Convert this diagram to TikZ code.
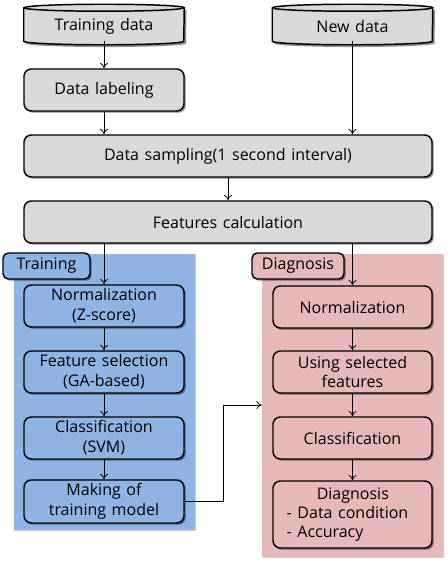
\documentclass[tikz,border=0pt]{standalone}
\usepackage{fontspec}
\setmainfont{Open Sans}
\usetikzlibrary{shadows,arrows.meta}
\definecolor{boxgray}{HTML}{D9D9D9}
\definecolor{tblue}{HTML}{8EB4E3}
\definecolor{dpink}{HTML}{E6B9B8}
\newcommand{\bfnt}{\fontsize{12}{14.8}\selectfont\spaceskip=4.2pt plus 1pt minus 1pt\relax}
\tikzset{
  shad/.style={drop shadow={shadow xshift=1.3pt,shadow yshift=-1.3pt,fill=black,opacity=0.45}},
  box/.style={draw=black,line width=1.1pt,rounded corners=5.5pt,shad,align=center,
    inner sep=0pt,font=\bfnt},
  bg/.style={inner sep=0pt,drop shadow={shadow xshift=1pt,shadow yshift=-1pt,fill=black,opacity=0.2}},
  tab/.style={draw=black,line width=1.1pt,rounded corners=4pt,shad,inner sep=0pt,font=\bfnt},
  arr/.style={-{To[length=4pt,width=6pt]},line width=0.6pt},
}
\begin{document}
\begin{tikzpicture}[x=0.75pt,y=-0.75pt]
\useasboundingbox (0,0) rectangle (448,564);
% backgrounds
\node[bg,fill=tblue,minimum width=181*0.75pt,minimum height=276*0.75pt] (bgL) at (104.5,392) {};
\node[bg,fill=dpink,minimum width=181*0.75pt,minimum height=303*0.75pt] (bgR) at (352.5,405.5) {};
% tabs
\node[tab,fill=tblue,minimum width=87*0.75pt,minimum height=26*0.75pt] (tabL) at (46.5,266) {Training};
\node[tab,fill=dpink,minimum width=92*0.75pt,minimum height=26*0.75pt] (tabR) at (298,266) {Diagnosis};
% cylinders
\foreach \n/\cx/\t in {td/104/Training data,nd/352.5/New data}{
  \node[minimum width=160*0.75pt,minimum height=33*0.75pt,inner sep=0pt] (\n) at (\cx,24.5) {};
  \fill[black,opacity=0.45] ([xshift=1.7,yshift=-1.7]\n.north west) -- ([xshift=1.7,yshift=-1.7]\n.south west)
     arc[start angle=180,end angle=0,x radius=80,y radius=3.5] -- ([xshift=1.7,yshift=-1.7]\n.north east) -- cycle;
  \draw[line width=1.1pt,fill=boxgray] (\n.north west) -- (\n.south west)
     arc[start angle=180,end angle=0,x radius=80,y radius=3.5] -- (\n.north east)
     arc[start angle=0,end angle=-180,x radius=80,y radius=3.5] -- cycle;
  \draw[line width=1.1pt] (\n.north west) arc[start angle=180,end angle=0,x radius=80,y radius=3.5];
  \node[font=\bfnt] at ([yshift=-1.5]\n.center) {\t};
}
% main boxes
\node[box,fill=boxgray,minimum width=160*0.75pt,minimum height=42*0.75pt] (lab) at (104,90) {Data labeling};
\node[box,fill=boxgray,minimum width=408*0.75pt,minimum height=42*0.75pt] (samp) at (228,156) {Data sampling(1 second interval)};
\node[box,fill=boxgray,minimum width=408*0.75pt,minimum height=42*0.75pt] (feat) at (228,222) {Features calculation};
% training column
\node[box,fill=tblue,minimum width=160*0.75pt,minimum height=42*0.75pt] (n1) at (104,306) {Normalization\\(Z-score)};
\node[box,fill=tblue,minimum width=160*0.75pt,minimum height=42*0.75pt] (f1) at (104,372) {Feature selection\\(GA-based)};
\node[box,fill=tblue,minimum width=160*0.75pt,minimum height=42*0.75pt] (c1) at (104,438) {Classification\\(SVM)};
\node[box,fill=tblue,minimum width=160*0.75pt,minimum height=43*0.75pt] (m1) at (104,501.5) {Making of\\training model};
% diagnosis column
\node[box,fill=dpink,minimum width=159*0.75pt,minimum height=42*0.75pt] (n2) at (352.5,307) {Normalization};
\node[box,fill=dpink,minimum width=159*0.75pt,minimum height=42*0.75pt] (u2) at (352.5,372) {Using selected\\features};
\node[box,fill=dpink,minimum width=159*0.75pt,minimum height=42*0.75pt] (c2) at (352.5,438) {Classification};
\node[box,fill=dpink,minimum width=159*0.75pt,minimum height=67*0.75pt] (d2) at (352.5,514.5)
  {\begin{tabular}{@{}l@{}}\multicolumn{1}{@{}c@{}}{\hspace*{8pt}Diagnosis}\\[-0.5pt] - Data condition\\[-0.5pt] - Accuracy\end{tabular}\hspace*{7.5pt}};
% arrows
\draw[arr] (td) -- (lab);
\draw[arr] (lab.south) -- (lab.south |- samp.north);
\draw[arr] (nd.south) -- (nd.south |- samp.north);
\draw[arr] (samp) -- (feat);
\draw[arr] (feat.south -| n1.north) -- (n1);
\draw[arr] (feat.south -| n2.north) -- (n2);
\draw[arr] (n1) -- (f1);
\draw[arr] (f1) -- (c1);
\draw[arr] (c1) -- (m1);
\draw[arr] (n2) -- (u2);
\draw[arr] (u2) -- (c2);
\draw[arr] (c2) -- (d2);
\coordinate (turn) at (223,405);
\draw[arr] (m1.east) -- (m1.east -| turn) -- (turn) -- (turn -| bgR.west);
\end{tikzpicture}
\end{document}
